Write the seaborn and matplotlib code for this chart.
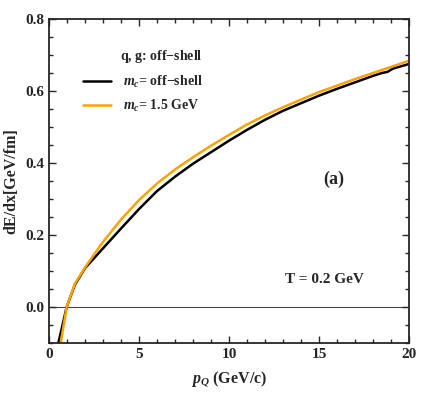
import numpy as np
import pandas as pd
import seaborn as sns
import matplotlib.pyplot as plt
from matplotlib.ticker import MultipleLocator, FormatStrFormatter

# values
p_black = [0.52, 0.98, 1.44, 2.0, 3.0, 4.0, 5.0, 6.0, 7.0, 8.0, 9.0, 10.0, 11.0,
           12.0, 13.0, 14.0, 15.0, 16.0, 17.0, 18.0, 18.5, 18.8, 19.1, 20.0]
de_black = [-0.1, 0.0, 0.062, 0.108, 0.163, 0.218, 0.272, 0.322, 0.362, 0.398, 0.430,
            0.462, 0.492, 0.520, 0.545, 0.566, 0.587, 0.606, 0.624, 0.642, 0.650, 0.653,
            0.662, 0.675]
p_orange = [0.65, 0.98, 1.44, 2.0, 3.0, 4.0, 5.0, 6.0, 7.0, 8.0, 9.0, 10.0, 11.0,
            12.0, 13.0, 14.0, 15.0, 16.0, 17.0, 18.0, 19.0, 20.0]
de_orange = [-0.1, 0.0, 0.065, 0.11, 0.181, 0.243, 0.297, 0.343, 0.382, 0.416, 0.448,
             0.478, 0.507, 0.532, 0.555, 0.576, 0.597, 0.615, 0.633, 0.650, 0.667, 0.684]

lab_black = r"$m_c$= off$-$shell"
lab_orange = r"$m_c$= 1.5 GeV"

df = pd.concat([
    pd.DataFrame({"p": p_black, "dE": de_black, "case": lab_black}),
    pd.DataFrame({"p": p_orange, "dE": de_orange, "case": lab_orange}),
])

sns.set_style("ticks")
plt.rcParams["font.family"] = ["Liberation Serif", "DejaVu Serif"]
plt.rcParams["font.weight"] = "bold"
plt.rcParams["mathtext.fontset"] = "custom"
plt.rcParams["mathtext.rm"] = "Liberation Serif:bold"
plt.rcParams["mathtext.it"] = "Liberation Serif:italic:bold"
plt.rcParams["mathtext.bf"] = "Liberation Serif:bold"

fig = plt.figure(figsize=(4.36, 3.93), dpi=100)
ax = fig.add_axes([0.1124, 0.1272, 0.8257, 0.8245])

sns.lineplot(data=df, x="p", y="dE", hue="case", sort=False, estimator=None,
             palette={lab_black: "black", lab_orange: "#ffa200"},
             linewidth=1.8, ax=ax)
ax.axhline(0, color="#444444", lw=0.8, zorder=0)

ax.set_xlim(0, 20)
ax.set_ylim(-0.1, 0.8)
ax.xaxis.set_major_locator(MultipleLocator(5))
ax.xaxis.set_minor_locator(MultipleLocator(1))
ax.yaxis.set_major_locator(MultipleLocator(0.2))
ax.yaxis.set_minor_locator(MultipleLocator(0.05))
ax.yaxis.set_major_formatter(FormatStrFormatter("%.1f"))
ax.tick_params(which="both", direction="in", top=True, right=True, width=1.0, labelsize=11)
ax.tick_params(which="major", length=5)
ax.tick_params(which="minor", length=3)
for s in ax.spines.values():
    s.set_linewidth(1.3)

ax.set_xlabel(r"$p_Q$ (GeV/c)", fontsize=11.5, fontweight="bold", labelpad=6)
ax.set_ylabel("dE/dx[GeV/fm]", fontsize=11.5, fontweight="bold", labelpad=4)

leg = ax.legend(title="q, g: off$-$shell", loc="upper left", bbox_to_anchor=(0.094, 0.91),
                frameon=False, fontsize=10, title_fontsize=10, handlelength=2.0,
                handletextpad=0.9, labelspacing=0.6, borderpad=0, borderaxespad=0,
                alignment="right")
leg.get_title().set_fontweight("bold")

ax.text(15.8, 0.354, "(a)", fontsize=13, fontweight="bold", ha="center", va="center")
ax.text(15.3, 0.076, "T = 0.2 GeV", fontsize=11, fontweight="bold", ha="center", va="center")

fig.savefig("out.png", dpi=100)
